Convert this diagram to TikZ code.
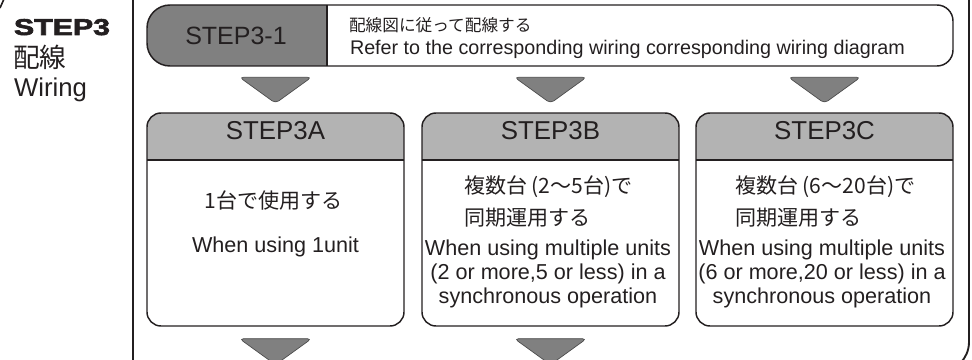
\documentclass[tikz,border=0pt]{standalone}
\usepackage{fontspec}
\setmainfont{Liberation Sans}
\newfontfamily\jp{Noto Sans CJK JP}
\newfontfamily\heavyfont[FakeBold=2.5]{Liberation Sans Bold}
\usetikzlibrary{calc}
\definecolor{ink}{HTML}{231F20}
\definecolor{darkg}{HTML}{808080}
\definecolor{hdr}{HTML}{B3B3B3}
\definecolor{arrline}{HTML}{4A4A4A}
\newcommand\fsz[1]{\fontsize{#1}{#1}\selectfont}
\begin{document}
\begin{tikzpicture}[x=0.75pt,y=-0.75pt,
  txt/.style={text=ink, inner sep=0pt, outer sep=0pt},
  lw/.style={line width=1.1pt},
  stepbox/.style={draw=ink, lw, rounded corners=10.5pt, minimum width=192.75pt,
    minimum height=159.75pt, inner sep=0pt,
    path picture={
      \fill[hdr, sharp corners] (path picture bounding box.north west) rectangle
        ([yshift=-35.25pt]path picture bounding box.north east);
      \draw[ink, lw, sharp corners] ([yshift=-35.25pt]path picture bounding box.north west) --
        ([yshift=-35.25pt]path picture bounding box.north east);
    }},
  downarr/.style={fill=darkg, draw=arrline, line width=0.5pt, rounded corners=3pt},
  headtxt/.style={txt, anchor=base, font=\fsz{19.4}},
  jpbody/.style={txt, font=\jp\fsz{15.8}},
  enbody/.style={txt, anchor=base, font=\fsz{16.2}}
]
\useasboundingbox (0,0) rectangle (972,360);
\clip (0,0) rectangle (972,360);

% outer frame
\draw[ink, line width=1.4pt] (133,-10) -- (133,380);
\draw[ink, line width=1.4pt] (969,-10) -- (969,342) arc[start angle=0,end angle=-90,radius=22.5pt] -- (900,372);
\draw[ink, line width=1.2pt] (0,8) .. controls (2,4) .. (4,-1);

% left label
\node[txt, anchor=base west] (step3) at (14,35) {\resizebox{72pt}{12pt}{\heavyfont STEP3}};
\node[txt, anchor=base west, font=\jp\fsz{20}] (haisen) at (13,68) {配線};
\node[txt, anchor=base west, font=\fsz{19.3}] (wiring) at (14,97) {Wiring};

% banner STEP3-1
\fill[darkg] (327,5) -- (170,5) arc[start angle=90,end angle=180,radius=17.25pt]
  -- (147,43) arc[start angle=180,end angle=270,radius=17.25pt] -- (327,66) -- cycle;
\draw[ink, lw] (170,5) -- (937,5) arc[start angle=90,end angle=0,radius=12pt]
  -- (953,50) arc[start angle=0,end angle=-90,radius=12pt]
  -- (170,66) arc[start angle=270,end angle=180,radius=17.25pt]
  -- (147,28) arc[start angle=180,end angle=90,radius=17.25pt] -- cycle;
\draw[ink, lw] (327,5) -- (327,66);
\node[headtxt, font=\fsz{18.75}] (s31) at (236,45) {STEP3-1};
\node[txt, anchor=base west, font=\jp\fsz{12.5}] (banjp) at (349,32) {配線図に従って配線する};
\node[txt, anchor=base west, font=\fsz{14.8}] (banen) at (350,55) {Refer to the corresponding wiring corresponding wiring diagram};

% boxes
\node[stepbox] (A) at (275.5,219.5) {};
\node[stepbox] (B) at (550.5,219.5) {};
\node[stepbox] (C) at (824.5,219.5) {};

\node[headtxt] (Ahead) at (275.5,139.3) {STEP3A};
\node[headtxt] (Bhead) at (550.5,139.3) {STEP3B};
\node[headtxt] (Chead) at (824.5,139.3) {STEP3C};

% box A text
\node[jpbody, anchor=base] (Ajp) at (274,209) {1台で使用する};
\node[enbody] (Aen) at (275.5,252) {When using 1unit};

% box B text
\node[jpbody, anchor=base west] (Bjp1) at (464,193) {複数台\hspace{0.22em}(2〜5台)で};
\node[jpbody, anchor=base west] (Bjp2) at (464,225) {同期運用する};
\node[enbody] (Ben1) at (548,255) {When using multiple units};
\node[enbody] (Ben2) at (548,279) {(2 or more,5 or less) in a};
\node[enbody] (Ben3) at (548,303) {synchronous operation};

% box C text
\node[jpbody, anchor=base west] (Cjp1) at (735,193) {複数台\hspace{0.22em}(6〜20台)で};
\node[jpbody, anchor=base west] (Cjp2) at (735,225) {同期運用する};
\node[enbody] (Cen1) at (822,255) {When using multiple units};
\node[enbody] (Cen2) at (822,279) {(6 or more,20 or less) in a};
\node[enbody] (Cen3) at (822,303) {synchronous operation};

% arrows between banner and boxes
\foreach \b in {A,B,C}{
  \path[downarr] ($(\b.north)+(-36,-35)$) -- ($(\b.north)+(36,-35)$) -- ($(\b.north)+(0,-9)$) -- cycle;
}
% arrows below boxes
\foreach \b in {A,B}{
  \path[downarr] ($(\b.south)+(-36,12)$) -- ($(\b.south)+(36,12)$) -- ($(\b.south)+(0,38)$) -- cycle;
}
\end{tikzpicture}
\end{document}
